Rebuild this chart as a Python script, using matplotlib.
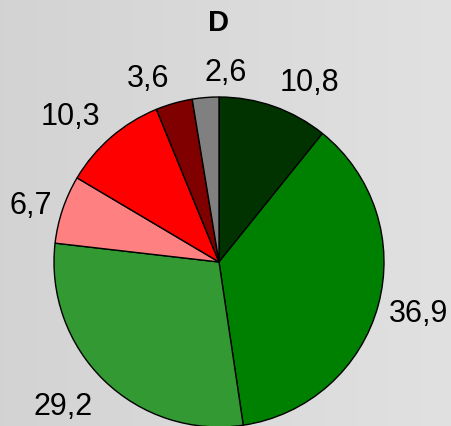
import numpy as np
import matplotlib.pyplot as plt

plt.rcParams['font.family'] = ['Liberation Sans', 'DejaVu Sans']

# slice values, clockwise from 12 o'clock
values = [10.8, 36.9, 29.2, 6.7, 10.3, 3.6, 2.6]
labels = ['10,8', '36,9', '29,2', '6,7', '10,3', '3,6', '2,6']
colors = ['#003300', '#008000', '#339933', '#ff8080', '#ff0000', '#800000', '#808080']
title = 'D'

W, H = 452, 426
fig = plt.figure(figsize=(W / 100, H / 100), dpi=100)

# light grey horizontal gradient background
bg = fig.add_axes([0, 0, 1, 1])
grad = np.linspace(0.827, 0.882, 256).reshape(1, -1)
bg.imshow(np.dstack([grad, grad, grad]), aspect='auto', extent=[0, 1, 0, 1])
bg.set_axis_off()

# pie axes: radius 165 px, centre at (219, 262) from top-left
r = 165
cx, cy = 219, H - 262
ax = fig.add_axes([(cx - r) / W, (cy - r) / H, 2 * r / W, 2 * r / H])
wedges, _ = ax.pie(values, colors=colors, startangle=90, counterclock=False,
                   wedgeprops=dict(edgecolor='black', linewidth=1.0))
for w in wedges:
    w.set_clip_on(False)

# excel-style labels: the text box corner nearest the pie sits just outside it
for w, lab in zip(wedges, labels):
    ang = np.deg2rad((w.theta1 + w.theta2) / 2)
    c, s = np.cos(ang), np.sin(ang)
    ha = 'left' if c > -0.15 else 'right'
    d, dy = 1.1, 0
    if abs(s) < 0.4:
        va = 'center_baseline'
        d, dy = 1.065, 8 * s
    elif s > 0:
        va = 'baseline'
    else:
        va = 'top'
    ax.annotate(lab, (d * c, d * s), xytext=(0, dy), textcoords='offset points',
                ha=ha, va=va, fontsize=22, annotation_clip=False)

ax.set_xlim(-1, 1)
ax.set_ylim(-1, 1)
ax.set_axis_off()

fig.text(cx / W, 1 - 23 / H, title, ha='center', va='center',
         fontsize=21, fontweight='bold')

fig.savefig('out.png', dpi=100)
